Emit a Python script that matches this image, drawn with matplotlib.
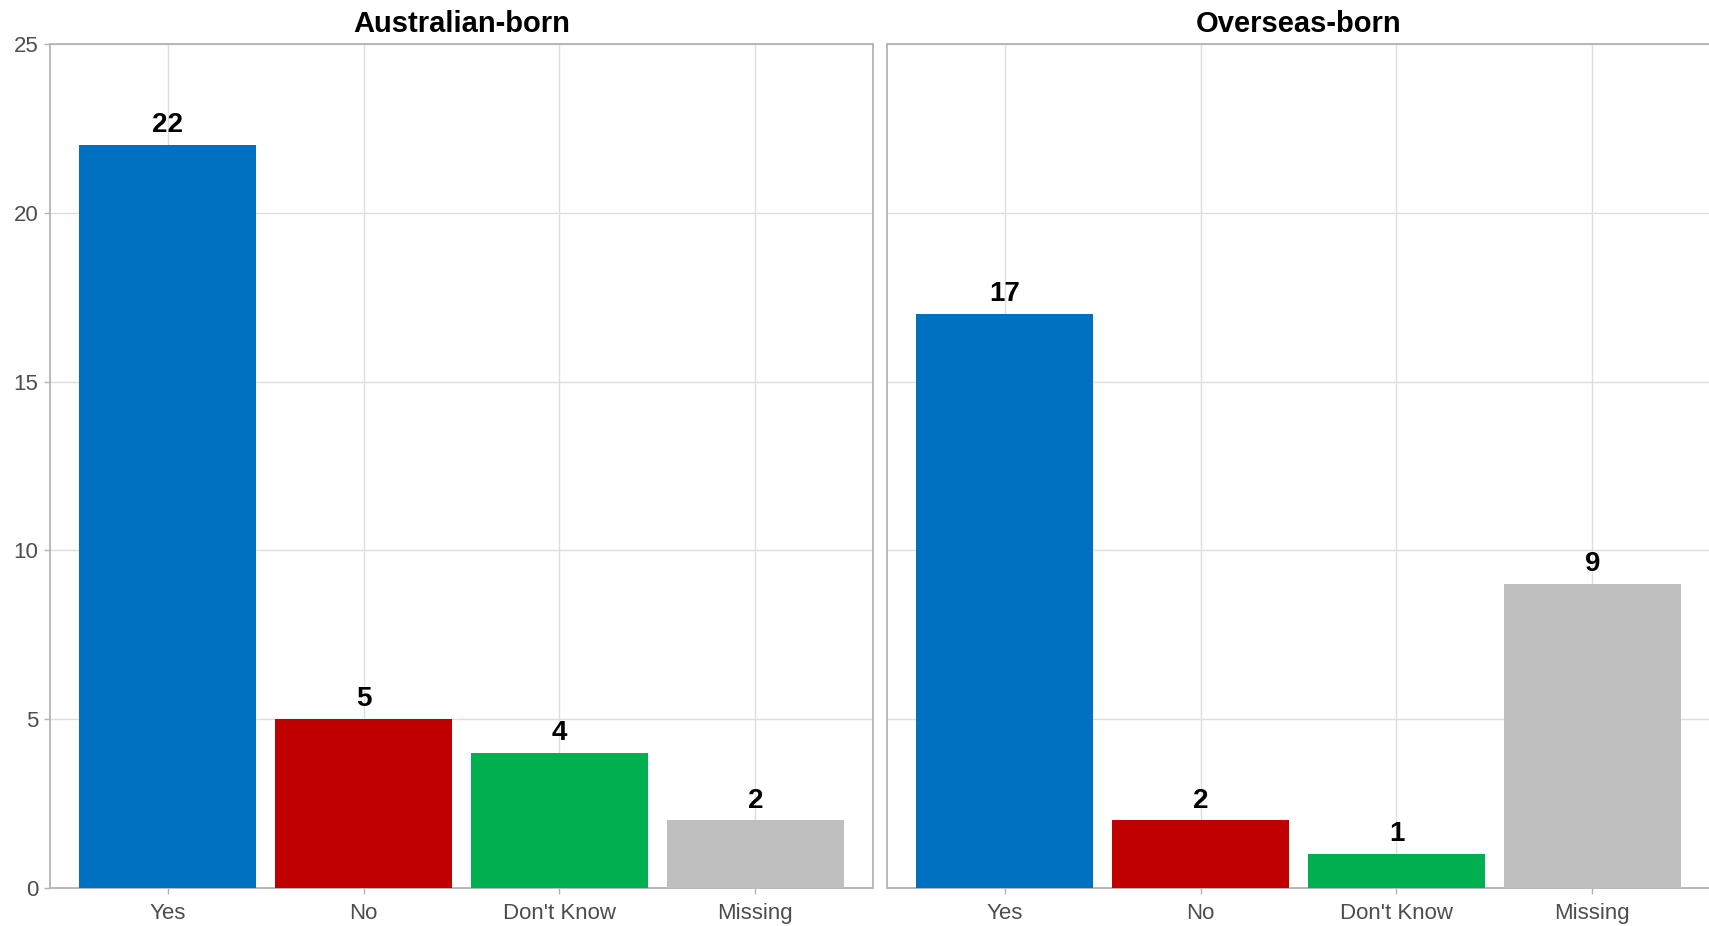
import numpy as np
import matplotlib
matplotlib.use("Agg")
import matplotlib.pyplot as plt

plt.rcParams["font.family"] = ["Liberation Sans", "DejaVu Sans"]

categories = ["Yes", "No", "Don't Know", "Missing"]
australian = [22, 5, 4, 2]
overseas = [17, 2, 1, 9]
panels = [("Australian-born", australian), ("Overseas-born", overseas)]
colors = ["#0070C0", "#C00000", "#00B050", "#BFBFBF"]

BORDER = "#b3b3b3"
GRID = "#dedede"

fig = plt.figure(figsize=(17.09, 9.26), dpi=100)
bottom, top = 1 - 888 / 926, 1 - 44 / 926
lefts = [50 / 1709, 887 / 1709]
width = 823 / 1709

x = np.arange(len(categories))
for k, (title, vals) in enumerate(panels):
    ax = fig.add_axes([lefts[k], bottom, width, top - bottom])
    ax.bar(x, vals, width=0.9, color=colors, zorder=3)
    for xi, v in zip(x, vals):
        ax.annotate(str(v), (xi, v), textcoords="offset points", xytext=(0, 5),
                    ha="center", va="bottom", fontsize=20, fontweight="bold",
                    color="black", zorder=4)
    ax.set_xlim(-0.6, len(categories) - 0.4)
    ax.set_ylim(0, 25)
    ax.set_yticks([0, 5, 10, 15, 20, 25])
    ax.set_xticks(x)
    ax.set_xticklabels(categories)
    ax.grid(True, color=GRID, lw=1, zorder=0)
    ax.set_axisbelow(True)
    for sp in ax.spines.values():
        sp.set_color(BORDER)
        sp.set_linewidth(1.3)
    ax.tick_params(axis="both", colors=BORDER, length=4.5, width=1,
                   labelcolor="#4d4d4d", labelsize=16, pad=4)
    ax.tick_params(axis="x", pad=6)
    if k == 1:
        ax.tick_params(axis="y", left=False, labelleft=False)
    ax.set_title(title, fontsize=21, fontweight="bold", pad=9)

fig.savefig("out.png", dpi=100)
